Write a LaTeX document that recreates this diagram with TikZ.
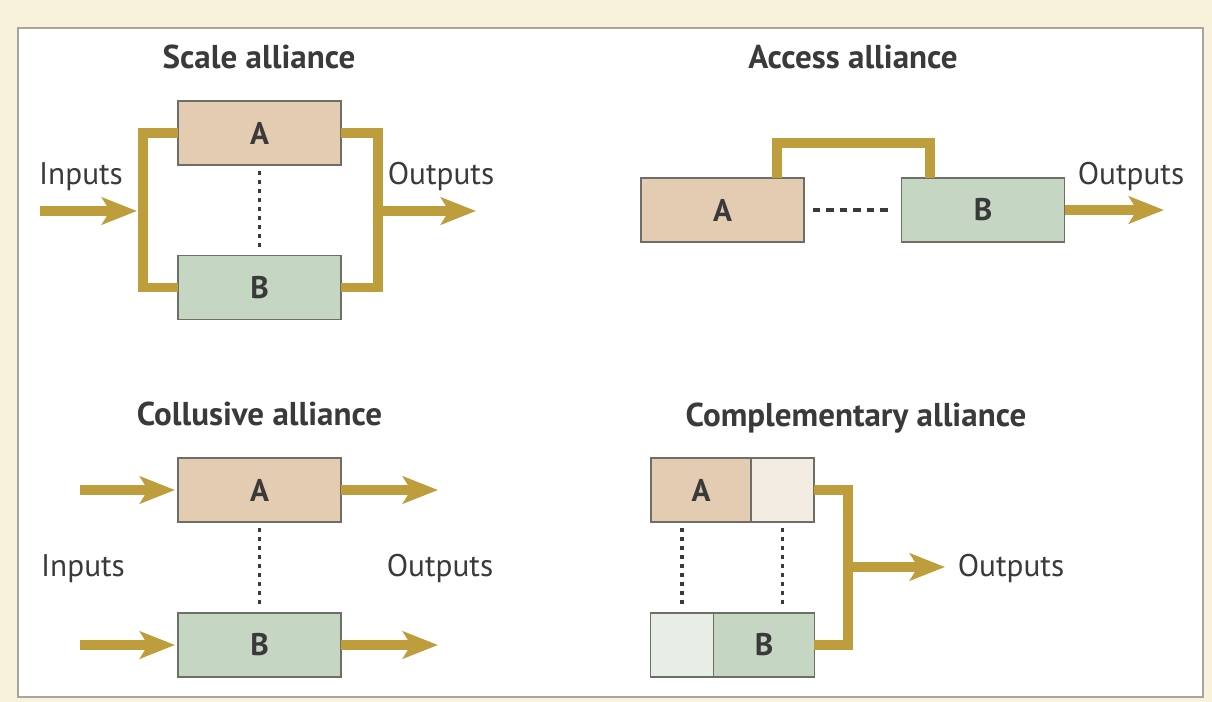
\documentclass[tikz,border=0pt]{standalone}
\usepackage{fontspec}
\setmainfont{PT Sans}
\usetikzlibrary{arrows.meta,positioning,calc}
\definecolor{cBand}{HTML}{BE9E3C}
\definecolor{cA}{HTML}{E3CCB1}
\definecolor{cAlt}{HTML}{F3ECE3}
\definecolor{cB}{HTML}{C5D7C2}
\definecolor{cBlt}{HTML}{E7EEE5}
\definecolor{cEdge}{HTML}{6E6E66}
\definecolor{cText}{HTML}{3A3A3A}
\definecolor{cPage}{HTML}{F8F2DA}
\definecolor{cFrame}{HTML}{A6A69C}
\newcommand{\diagfont}{\fontsize{17.8}{21}\selectfont}
\newcommand{\headfont}{\fontsize{18.8}{22}\selectfont}
\tikzset{
  box/.style={draw=cEdge, line width=0.8pt, minimum width=3.26cm, minimum height=1.28cm,
    inner sep=0pt, outer sep=0pt, font=\diagfont\bfseries, text=cText},
  boxA/.style={box, fill=cA},
  boxB/.style={box, fill=cB},
  part/.style={box, minimum width=1.26cm},
  title/.style={font=\headfont\bfseries, text=cText, anchor=base},
  lbl/.style={font=\diagfont, text=cText, anchor=base},
  band/.style={draw=cBand, line width=0.2cm},
  flow/.style={band, -{Stealth[length=0.7cm, width=0.54cm, inset=0.16cm]}},
  tie/.style={draw=cText, line width=2pt, dash pattern=on 0.09cm off 0.09cm,
    shorten <=0.12cm, shorten >=0.14cm},
}
\begin{document}
\begin{tikzpicture}[x=0.02cm, y=-0.02cm]
    % page and frame
    \fill[cPage] (0,0) rectangle (1212,702);
    \draw[cFrame, line width=1.2pt, fill=white] (18,28) rectangle (1203,697);
    % scale alliance
    \node[title] (sT) at (259,69) {Scale alliance};
    \node[boxA] (sA) at (259.5,133) {A};
    \node[boxB] (sB) at (259.5,287.5) {B};
    \coordinate (sL) at (143,211);
    \coordinate (sR) at (378,211);
    \coordinate (sIn) at (40,211);
    \coordinate (sOut) at (476,211);
    \draw[band] (sA.west) -| (sL) |- (sB.west);
    \draw[band] (sA.east) -| (sR) |- (sB.east);
    \draw[flow, shorten >=0.12cm] (sIn) -- (sL);
    \draw[flow] (sR) -- (sOut);
    \draw[tie] (sA) -- (sB);
    \node[lbl] (sInL) at (81,185) {Inputs};
    \node[lbl] (sOutL) at (441,185) {Outputs};
    % access alliance
    \node[title] (aT) at (853,69) {Access alliance};
    \node[boxA] (aA) at (722.5,210) {A};
    \node[boxB] (aB) at (983,210) {B};
    \coordinate (aTop) at (853,143);
    \coordinate (aOut) at (1164,210);
    \draw[band] ([xshift=1.09cm]aA.north) |- (aTop) -| ([xshift=-1.06cm]aB.north);
    \draw[tie, dash pattern=on 0.15cm off 0.12cm, shorten <=0.18cm, shorten >=0.2cm] (aA) -- (aB);
    \draw[flow] (aB) -- (aOut);
    \node[lbl] (aOutL) at (1131,185) {Outputs};
    % collusive alliance
    \node[title] (kT) at (259.5,425) {Collusive alliance};
    \node[boxA] (kA) at (259.5,490) {A};
    \node[boxB] (kB) at (259.5,645) {B};
    \coordinate (kInA) at (80,490);
    \coordinate (kInB) at (80,645);
    \coordinate (kOutA) at (438,490);
    \coordinate (kOutB) at (438,645);
    \draw[flow, shorten >=0.06cm] (kInA) -- (kA);
    \draw[flow, shorten >=0.06cm] (kInB) -- (kB);
    \draw[flow] (kA) -- (kOutA);
    \draw[flow] (kB) -- (kOutB);
    \draw[tie] (kA) -- (kB);
    \node[lbl] (kInL) at (83,576) {Inputs};
    \node[lbl] (kOutL) at (440,576) {Outputs};
    % complementary alliance
    \node[title] (mT) at (856,426) {Complementary alliance};
    \node[boxA, minimum width=2cm] (mA) at (701,490) {A};
    \node[part, fill=cAlt, right=0pt of mA] (mAx) {};
    \node[part, fill=cBlt] (mBx) at (682,645) {};
    \node[boxB, minimum width=2.02cm, right=0pt of mBx] (mB) {B};
    \coordinate (mJ) at (848,567);
    \coordinate (mOut) at (945,567);
    \draw[tie] (mBx.north |- mA.south) -- (mBx.north);
    \draw[tie] (mAx.south) -- (mAx.south |- mB.north);
    \draw[band] (mAx.east) -| (mJ) |- (mB.east);
    \draw[flow] (mJ) -- (mOut);
    \node[lbl] (mOutL) at (1011,576) {Outputs};
\end{tikzpicture}
\end{document}
